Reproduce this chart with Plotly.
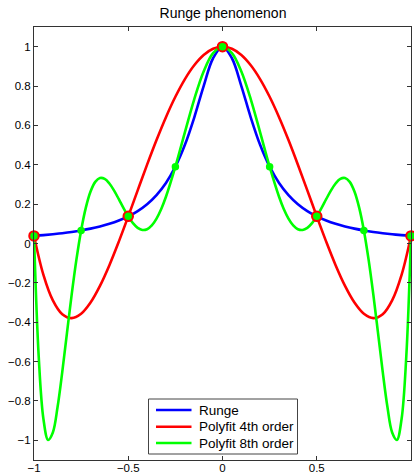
import plotly.graph_objects as go

# ---- data (values read / estimated from the chart) ----
x_grid = [-1.0, -0.95, -0.9, -0.85, -0.8, -0.75, -0.7, -0.65, -0.6, -0.55, -0.5,
          -0.45, -0.4, -0.35, -0.3, -0.25, -0.2, -0.15, -0.1, -0.05, 0.0,
          0.05, 0.1, 0.15, 0.2, 0.25, 0.3, 0.35, 0.4, 0.45, 0.5,
          0.55, 0.6, 0.65, 0.7, 0.75, 0.8, 0.85, 0.9, 0.95, 1.0]

runge_y = [0.0385, 0.0424, 0.0471, 0.0525, 0.0588, 0.0664, 0.0755, 0.0865, 0.1000, 0.1168, 0.1379,
           0.1649, 0.2000, 0.2462, 0.3077, 0.3902, 0.5000, 0.6400, 0.8000, 0.9412, 1.0000,
           0.9412, 0.8000, 0.6400, 0.5000, 0.3902, 0.3077, 0.2462, 0.2000, 0.1649, 0.1379,
           0.1168, 0.1000, 0.0865, 0.0755, 0.0664, 0.0588, 0.0525, 0.0471, 0.0424, 0.0385]

poly4_y = [0.0385, -0.1595, -0.2891, -0.3595, -0.3793, -0.3568, -0.2997, -0.2152, -0.1101, 0.0096, 0.1379,
           0.2698, 0.4005, 0.5258, 0.6419, 0.7456, 0.8342, 0.9054, 0.9576, 0.9893, 1.0000,
           0.9893, 0.9576, 0.9054, 0.8342, 0.7456, 0.6419, 0.5258, 0.4005, 0.2698, 0.1379,
           0.0096, -0.1101, -0.2152, -0.2997, -0.3568, -0.3793, -0.3595, -0.2891, -0.1595, 0.0385]

x8 = [-1.0, -0.975, -0.95, -0.925, -0.9, -0.875, -0.85, -0.825, -0.8, -0.775, -0.75, -0.725, -0.7,
      -0.675, -0.65, -0.625, -0.6, -0.575, -0.55, -0.525, -0.5, -0.475, -0.45, -0.425, -0.4,
      -0.375, -0.35, -0.325, -0.3, -0.25, -0.2, -0.15, -0.1, -0.05, 0.0,
      0.05, 0.1, 0.15, 0.2, 0.25, 0.3, 0.325, 0.35, 0.375, 0.4, 0.425, 0.45, 0.475,
      0.5, 0.525, 0.55, 0.575, 0.6, 0.625, 0.65, 0.675, 0.7, 0.725, 0.75, 0.775,
      0.8, 0.825, 0.85, 0.875, 0.9, 0.925, 0.95, 0.975, 1.0]
poly8_y = [0.0385, -0.5740, -0.8918, -0.9980, -0.9600, -0.8310, -0.6521, -0.4537, -0.2586, -0.0822, 0.0664, 0.1821, 0.2638,
           0.3129, 0.3327, 0.3283, 0.3049, 0.2686, 0.2251, 0.1799, 0.1379, 0.1033, 0.0794, 0.0686, 0.0726,
           0.0919, 0.1266, 0.1756, 0.2374, 0.3902, 0.5636, 0.7328, 0.8740, 0.9674, 1.0000,
           0.9674, 0.8740, 0.7328, 0.5636, 0.3902, 0.2374, 0.1756, 0.1266, 0.0919, 0.0726, 0.0686, 0.0794, 0.1033,
           0.1379, 0.1799, 0.2251, 0.2686, 0.3049, 0.3283, 0.3327, 0.3129, 0.2638, 0.1821, 0.0664, -0.0822,
           -0.2586, -0.4537, -0.6521, -0.8310, -0.9600, -0.9980, -0.8918, -0.5740, 0.0385]

node4_x = [-1.0, -0.5, 0.0, 0.5, 1.0]
node4_y = [0.0385, 0.1379, 1.0, 0.1379, 0.0385]
node8_x = [-1.0, -0.75, -0.5, -0.25, 0.0, 0.25, 0.5, 0.75, 1.0]
node8_y = [0.0385, 0.0664, 0.1379, 0.3902, 1.0, 0.3902, 0.1379, 0.0664, 0.0385]

series_names = ["Runge", "Polyfit 4th order", "Polyfit 8th order"]
x_ticks = [-1, -0.5, 0, 0.5, 1]
y_ticks = [-1, -0.8, -0.6, -0.4, -0.2, 0, 0.2, 0.4, 0.6, 0.8, 1]

BLUE, RED, GREEN = "#0000FF", "#FF0000", "#00FF00"
series_colors = [BLUE, RED, GREEN]
FONT = "Liberation Sans, Arial, Helvetica, sans-serif"
AXC = "#333333"

W, H = 414, 475
ML, MR, MT, MB = 34, 3, 27, 15
PW, PH = W - ML - MR, H - MT - MB


def px_x(p):  # pixel -> paper x
    return (p - ML) / PW


def px_y(p):  # pixel -> paper y
    return (H - MB - p) / PH


fig = go.Figure()
fig.add_trace(go.Scatter(x=x_grid, y=runge_y, mode="lines", name=series_names[0],
                         line=dict(color=BLUE, width=2.6, shape="spline"), cliponaxis=False))
fig.add_trace(go.Scatter(x=x_grid, y=poly4_y, mode="lines", name=series_names[1],
                         line=dict(color=RED, width=2.6, shape="spline"), cliponaxis=False))
fig.add_trace(go.Scatter(x=x8, y=poly8_y, mode="lines", name=series_names[2],
                         line=dict(color=GREEN, width=2.6, shape="spline"), cliponaxis=False))
fig.add_trace(go.Scatter(x=node8_x, y=node8_y, mode="markers", showlegend=False,
                         marker=dict(color=GREEN, size=7.5, line=dict(width=0)), cliponaxis=False))
fig.add_trace(go.Scatter(x=node4_x, y=node4_y, mode="markers", showlegend=False,
                         marker=dict(color=GREEN, size=9.5, line=dict(color=RED, width=2)), cliponaxis=False))

axis_common = dict(showline=True, linecolor=AXC, linewidth=1, mirror="ticks",
                   ticks="inside", ticklen=4, tickcolor=AXC, tickwidth=1,
                   showgrid=False, zeroline=False, automargin=False,
                   tickfont=dict(family=FONT, size=11.5, color="black"))

# ---- legend box drawn manually (MATLAB style) ----
shapes = [dict(type="rect", xref="paper", yref="paper",
               x0=px_x(148.5), x1=px_x(297.5), y0=px_y(454), y1=px_y(399),
               line=dict(color="#444444", width=1), fillcolor="white", layer="above")]
annotations = []
row_y = [410, 426.7, 443]
for name, col, ry in zip(series_names, series_colors, row_y):
    shapes.append(dict(type="line", xref="paper", yref="paper",
                       x0=px_x(156), x1=px_x(191.5), y0=px_y(ry), y1=px_y(ry),
                       line=dict(color=col, width=2.6), layer="above"))
    annotations.append(dict(text=name, xref="paper", yref="paper", x=px_x(196.5), y=px_y(ry),
                            xanchor="left", yanchor="middle", showarrow=False,
                            font=dict(family=FONT, size=13.5, color="black")))

fig.update_layout(
    width=W, height=H,
    margin=dict(l=ML, r=MR, t=MT, b=MB, autoexpand=False),
    paper_bgcolor="white", plot_bgcolor="white",
    title=dict(text="Runge phenomenon", x=px_x(223), xref="paper", xanchor="center",
               y=1 - 13.3 / H, yanchor="middle",
               font=dict(family=FONT, size=14, color="black")),
    xaxis=dict(range=[-1, 1], tickvals=x_ticks, ticklabelstandoff=-3, **axis_common),
    yaxis=dict(range=[-1.1, 1.1], tickvals=y_ticks, **axis_common),
    showlegend=False,
    shapes=shapes,
    annotations=annotations,
)

fig.write_html("out.html",
               config={"displayModeBar": False},
               post_script="document.body.style.margin='0';document.body.style.overflow='hidden';")
